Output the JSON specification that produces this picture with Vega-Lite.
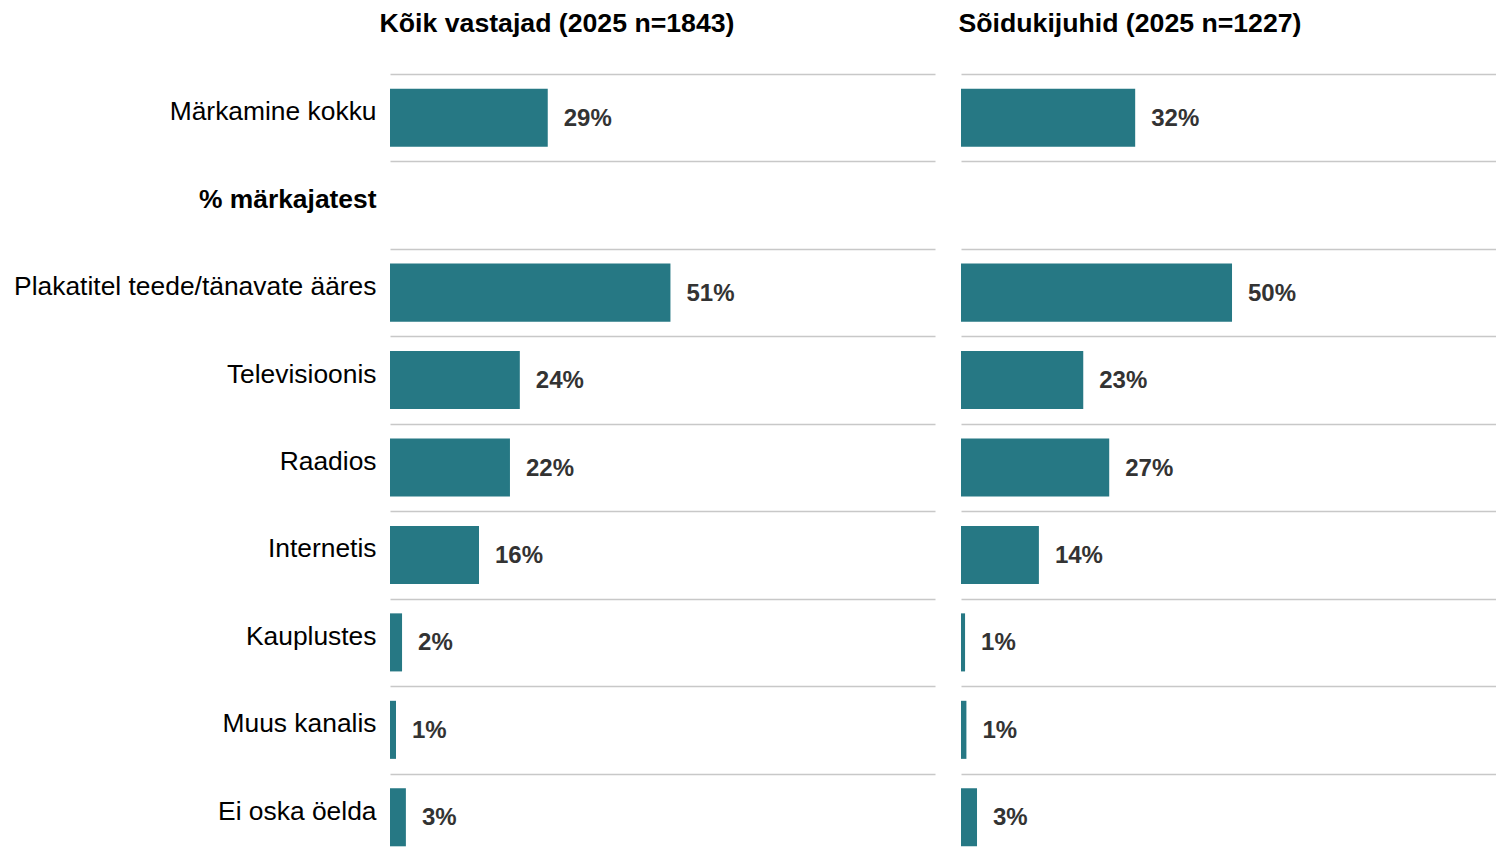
{
  "$schema": "https://vega.github.io/schema/vega-lite/v6.json",
  "padding": {"left": 13, "top": 11, "right": 0, "bottom": 0},
  "spacing": 23,
  "background": "white",
  "config": {
    "view": {"stroke": null},
    "font": "Liberation Sans",
    "title": {"font": "Liberation Sans", "fontSize": 26.67, "fontWeight": "bold", "color": "#000000", "anchor": "middle", "frame": "group"}
  },
  "data": {
    "values": [
      {"panel": "Kõik vastajad", "category": "Märkamine kokku", "value": 0.288},
      {"panel": "Kõik vastajad", "category": "Plakatitel teede/tänavate ääres", "value": 0.512},
      {"panel": "Kõik vastajad", "category": "Televisioonis", "value": 0.237},
      {"panel": "Kõik vastajad", "category": "Raadios", "value": 0.219},
      {"panel": "Kõik vastajad", "category": "Internetis", "value": 0.1625},
      {"panel": "Kõik vastajad", "category": "Kauplustes", "value": 0.022},
      {"panel": "Kõik vastajad", "category": "Muus kanalis", "value": 0.011},
      {"panel": "Kõik vastajad", "category": "Ei oska öelda", "value": 0.029},
      {"panel": "Sõidukijuhid", "category": "Märkamine kokku", "value": 0.322},
      {"panel": "Sõidukijuhid", "category": "Plakatitel teede/tänavate ääres", "value": 0.501},
      {"panel": "Sõidukijuhid", "category": "Televisioonis", "value": 0.226},
      {"panel": "Sõidukijuhid", "category": "Raadios", "value": 0.274},
      {"panel": "Sõidukijuhid", "category": "Internetis", "value": 0.144},
      {"panel": "Sõidukijuhid", "category": "Kauplustes", "value": 0.0075},
      {"panel": "Sõidukijuhid", "category": "Muus kanalis", "value": 0.01},
      {"panel": "Sõidukijuhid", "category": "Ei oska öelda", "value": 0.0296}
    ]
  },
  "hconcat": [
    {
      "width": 545,
      "height": 787,
      "title": {"text": "Kõik vastajad (2025 n=1843)", "dx": -105.5, "offset": 23},
      "transform": [{"filter": "datum.panel === 'Kõik vastajad'"}],
      "encoding": {
        "y": {
          "field": "category",
          "type": "nominal",
          "sort": null,
          "scale": {
            "domain": ["Märkamine kokku", "% märkajatest", "Plakatitel teede/tänavate ääres", "Televisioonis", "Raadios", "Internetis", "Kauplustes", "Muus kanalis", "Ei oska öelda"],
            "paddingInner": 0,
            "paddingOuter": 0
          },
          "axis": {
            "title": null,
            "domain": false,
            "ticks": false,
            "tickSize": 0,
            "tickBand": "extent",
            "grid": true,
            "gridColor": "#c8c8c8",
            "gridWidth": 1.5,
            "labelFont": "Liberation Sans",
            "labelFontSize": 26.4,
            "labelColor": "#000000",
            "labelPadding": 14,
            "labelOffset": -6,
            "labelLimit": 1000,
            "minExtent": 0,
            "labelFontWeight": {"condition": {"test": "datum.value === '% märkajatest'", "value": "bold"}, "value": "normal"}
          }
        },
        "x": {
          "field": "value",
          "type": "quantitative",
          "scale": {"domain": [0, 0.995], "nice": false, "zero": true},
          "axis": null
        }
      },
      "layer": [
        {"mark": {"type": "bar", "color": "#267884", "height": {"band": 0.664}}},
        {
          "mark": {"type": "text", "align": "left", "baseline": "middle", "dx": 16, "dy": 1, "fontSize": 24, "fontWeight": "bold", "color": "#333333", "font": "Liberation Sans"},
          "encoding": {"text": {"field": "value", "type": "quantitative", "format": ".0%"}}
        }
      ]
    },
    {
      "width": 535,
      "height": 787,
      "title": {"text": "Sõidukijuhid (2025 n=1227)", "dx": -98.5, "offset": 36},
      "transform": [{"filter": "datum.panel === 'Sõidukijuhid'"}],
      "encoding": {
        "y": {
          "field": "category",
          "type": "nominal",
          "sort": null,
          "scale": {
            "domain": ["Märkamine kokku", "% märkajatest", "Plakatitel teede/tänavate ääres", "Televisioonis", "Raadios", "Internetis", "Kauplustes", "Muus kanalis", "Ei oska öelda"],
            "paddingInner": 0,
            "paddingOuter": 0
          },
          "axis": {
            "title": null,
            "domain": false,
            "ticks": false,
            "tickSize": 0,
            "labels": false,
            "tickBand": "extent",
            "grid": true,
            "gridColor": "#c8c8c8",
            "gridWidth": 1.5,
            "minExtent": 0,
            "maxExtent": 0
          }
        },
        "x": {
          "field": "value",
          "type": "quantitative",
          "scale": {"domain": [0, 0.989], "nice": false, "zero": true},
          "axis": null
        }
      },
      "layer": [
        {"mark": {"type": "bar", "color": "#267884", "height": {"band": 0.664}}},
        {
          "mark": {"type": "text", "align": "left", "baseline": "middle", "dx": 16, "dy": 1, "fontSize": 24, "fontWeight": "bold", "color": "#333333", "font": "Liberation Sans"},
          "encoding": {"text": {"field": "value", "type": "quantitative", "format": ".0%"}}
        }
      ]
    }
  ]
}
